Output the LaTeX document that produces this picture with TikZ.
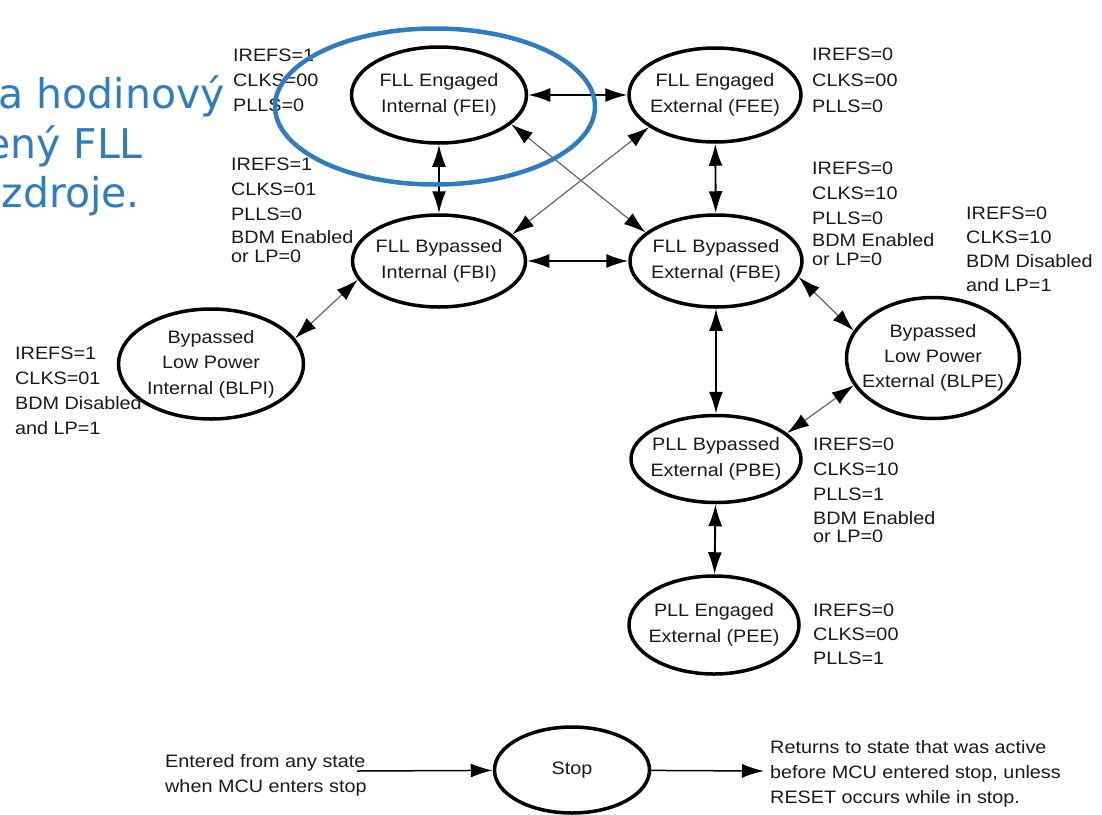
\documentclass[tikz,border=0pt]{standalone}
\usepackage{fontspec}
\setmainfont[FakeStretch=1.1]{Liberation Sans}
\newfontfamily\slidefont{DejaVu Sans}
\usepackage{tikz}
\usetikzlibrary{shapes.geometric,arrows.meta}
\definecolor{slideblue}{RGB}{46,125,193}
\definecolor{ink}{RGB}{25,25,35}

\begin{document}
\begin{tikzpicture}[x=1pt,y=-1pt,>={Latex[length=22pt,width=14pt]},
	state/.style={ellipse,draw,line width=3.5pt,inner sep=-12pt,align=center,text=ink,font=\fontsize{18}{26}\selectfont},
	bits/.style={anchor=north west,inner sep=0pt,align=left,text=ink,font=\fontsize{18}{25}\selectfont},
	both/.style={<->,line width=1.9pt},
	cross/.style={<->,line width=1.2pt,draw=black!60,>={Latex[length=22pt,width=14pt,color=black]}},
	note/.style={anchor=base east,inner sep=0pt,text=slideblue,font=\slidefont\fontsize{41}{50}\selectfont}]
%   (FEI) <--> (FEE)
%     |    \  /   |
%     |     \/    |
%     |     /\    |
%   (FBI) <--> (FBE)
%   /             |  \
% (BLPI)        (PBE)-(BLPE)
%                 |
%               (PEE)
%
%   entry --> (Stop) --> exit

	\clip (0,0) rectangle (1102,814);

	\node[state,minimum width=175pt,minimum height=96pt] (FEI) at (439,95) {FLL Engaged\\Internal (FEI)};
	\node[state,minimum width=172pt,minimum height=94pt] (FEE) at (715,95) {FLL Engaged\\External (FEE)};
	\node[state,minimum width=173pt,minimum height=92pt] (FBI) at (439,261) {FLL Bypassed\\Internal (FBI)};
	\node[state,minimum width=172pt,minimum height=92pt] (FBE) at (716,261) {FLL Bypassed\\External (FBE)};
	\node[state,minimum width=185pt,minimum height=110pt,font=\fontsize{18}{25.5}\selectfont] (BLPI) at (211,364) {Bypassed\\Low Power\\Internal (BLPI)};
	\node[state,minimum width=173pt,minimum height=121pt,font=\fontsize{18}{25}\selectfont] (BLPE) at (933,358) {Bypassed\\Low Power\\External (BLPE)};
	\node[state,minimum width=170pt,minimum height=87pt] (PBE) at (716,459) {PLL Bypassed\\External (PBE)};
	\node[state,minimum width=170pt,minimum height=98pt] (PEE) at (714,625) {PLL Engaged\\External (PEE)};
	\node[state,minimum width=155pt,minimum height=86pt] (Stop) at (572,770) {Stop};

	\node[bits] (FEIbits) at (233,49) {IREFS=1\\CLKS=00\\PLLS=0};
	\node[bits] (FBIbits) at (231,158) {IREFS=1\\CLKS=01\\PLLS=0\\[-2pt]BDM Enabled\\[-6pt]or LP=0};
	\node[bits,font=\fontsize{18}{26}\selectfont] (FEEbits) at (812,48) {IREFS=0\\CLKS=00\\PLLS=0};
	\node[bits] (FBEbits) at (812,162) {IREFS=0\\CLKS=10\\PLLS=0\\[-3pt]BDM Enabled\\[-6pt]or LP=0};
	\node[bits,font=\fontsize{18}{24}\selectfont] (BLPEbits) at (966,207) {IREFS=0\\CLKS=10\\BDM Disabled\\and LP=1};
	\node[bits] (BLPIbits) at (15,347) {IREFS=1\\CLKS=01\\BDM Disabled\\and LP=1};
	\node[bits] (PBEbits) at (813,438) {IREFS=0\\CLKS=10\\PLLS=1\\[-1pt]BDM Enabled\\[-7pt]or LP=0};
	\node[bits,font=\fontsize{18}{24}\selectfont] (PEEbits) at (813,604) {IREFS=0\\CLKS=00\\PLLS=1};
	\node[bits] (entrytext) at (165,754) {Entered from any state\\when MCU enters stop};
	\node[bits] (exittext) at (770,740) {Returns to state that was active\\before MCU entered stop, unless\\RESET occurs while in stop.};

	\coordinate (entry) at (357,771);
	\coordinate (exit) at (764,771);

	\draw[both] (FEI) -- (FEE);
	\draw[both] (FEI) -- (FBI);
	\draw[both] (FEE) -- (FBE);
	\draw[both] (FBI) -- (FBE);
	\draw[both] (FBE) -- (PBE);
	\draw[both] (PBE) -- (PEE);
	\draw[cross] (FEI.-22) -- (FBE.158);
	\draw[cross] (FEE.-154) -- (FBI.20);
	\draw[cross] (FBI.-167) -- (BLPI.17);
	\draw[cross] (FBE.-11) -- (BLPE.161);
	\draw[cross] (BLPE.-161) -- (PBE.20);
	\draw[->,line width=1.5pt] (entry) -- (Stop);
	\draw[->,line width=1.5pt] (Stop) -- (exit);

	% slide overlay
	\draw[slideblue,line width=4.5pt] (435,106.5) ellipse [x radius=160pt,y radius=78pt];
	\node[note] (noteA) at (225,108) {a hodinový};
	\node[note] (noteB) at (143,158) {ený FLL};
	\node[note] (noteC) at (140,207) {zdroje.};
\end{tikzpicture}
\end{document}
